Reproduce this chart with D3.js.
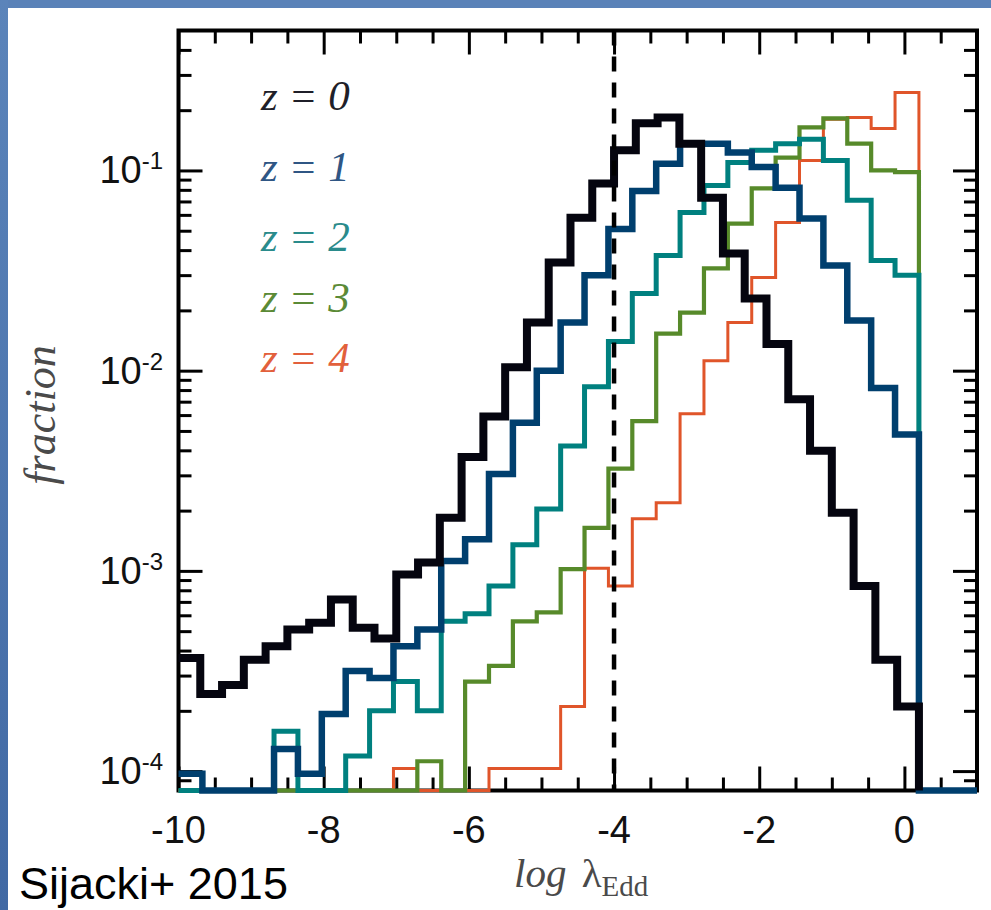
<!DOCTYPE html>
<html><head><meta charset="utf-8">
<script src="https://cdn.jsdelivr.net/npm/d3@7"></script>
<style>html,body{margin:0;padding:0;background:#fff;}svg{display:block;}</style>
</head><body>
<svg id="chart" width="991" height="910"></svg>
<script>
// ---------------- data ----------------
const seriesLabels = ["z = 0", "z = 1", "z = 2", "z = 3", "z = 4"];
// histogram bin ranges in log lambda_Edd
const z0BinRange = [-10, 0.2];      // 34 bins
const highZBinRange = [-10, 0.2];   // 31 bins (z = 1..4)
// fraction per bin (0 = empty bin)
const z0Values = [3.67e-4, 2.43e-4, 2.69e-4, 3.6e-4, 4.2e-4, 5.1e-4, 5.5e-4, 7.2e-4, 5.2e-4, 4.6e-4,
  9.6e-4, 1.1e-3, 1.84e-3, 3.7e-3, 5.9e-3, 1.04e-2, 1.74e-2, 3.47e-2, 5.8e-2, 8.6e-2,
  0.126, 0.172, 0.184, 0.136, 0.073, 0.0385, 0.0229, 0.0136, 7.2e-3, 3.98e-3,
  1.95e-3, 8.4e-4, 3.6e-4, 2.1e-4];
const z1Values = [9.7e-5, 0, 0, 0, 1.29e-4, 9.7e-5, 1.93e-4, 3.16e-4, 2.92e-4, 4.2e-4,
  5.1e-4, 1.12e-3, 1.44e-3, 3.05e-3, 5.5e-3, 0.010, 0.0174, 0.030, 0.051, 0.079,
  0.108, 0.136, 0.136, 0.123, 0.104, 0.082, 0.0575, 0.0335, 0.0178, 0.0082, 0.0048];
const z2Values = [0, 0, 0, 0, 1.58e-4, 0, 0, 1.19e-4, 2.0e-4, 2.8e-4,
  2.0e-4, 5.6e-4, 6.1e-4, 8.4e-4, 1.35e-3, 2.04e-3, 4.2e-3, 8.3e-3, 0.014, 0.0243,
  0.0376, 0.0617, 0.084, 0.1096, 0.126, 0.136, 0.143, 0.112, 0.071, 0.0355, 0.030];
const z3Values = [0, 0, 0, 0, 0, 0, 0, 0, 0, 0,
  1.12e-4, 0, 2.8e-4, 3.35e-4, 5.6e-4, 6.2e-4, 1.02e-3, 1.64e-3, 3.24e-3, 5.6e-3,
  0.0153, 0.0195, 0.0324, 0.0543, 0.0813, 0.116, 0.164, 0.182, 0.136, 0.1, 0.098];
const z4Values = [0, 0, 0, 0, 0, 0, 0, 0, 0, 1.03e-4,
  0, 0, 0, 1.03e-4, 1.03e-4, 1.03e-4, 2.1e-4, 1.03e-3, 8.4e-4, 1.82e-3,
  2.19e-3, 6.1e-3, 0.0112, 0.0174, 0.0292, 0.055, 0.112, 0.18, 0.184, 0.162, 0.245];
const xTickLabels = [-10, -8, -6, -4, -2, 0];
const yTickExponents = [-4, -3, -2, -1];
const eddingtonCut = -4;
const xDomain = [-10, 1];
const yDomain = [8e-5, 0.5];

// ---------------- layout / style ----------------
const L = 178.5, R = 977, T = 30.5, B = 790.5;
const styles = [
  {values: z0Values, range: z0BinRange, color: "#05050f", width: 8,   text: "#1f1f29", tail: false},
  {values: z1Values, range: highZBinRange, color: "#003f6e", width: 6.5, text: "#2f5684", tail: true},
  {values: z2Values, range: highZBinRange, color: "#00807f", width: 5,   text: "#2a8b8b", tail: false},
  {values: z3Values, range: highZBinRange, color: "#578a2a", width: 4.2, text: "#5b8a36", tail: false},
  {values: z4Values, range: highZBinRange, color: "#e0552a", width: 3,   text: "#e2603c", tail: false}
];
const legendBaselines = [110, 181, 251, 312, 372];

const svg = d3.select("#chart");
svg.append("rect").attr("width", 991).attr("height", 910).attr("fill", "#fff");

const defs = svg.append("defs");
const g1 = defs.append("linearGradient").attr("id", "lg").attr("x1", 0).attr("y1", 0).attr("x2", 0).attr("y2", 1);
g1.append("stop").attr("offset", "0%").attr("stop-color", "#5b84ba");
g1.append("stop").attr("offset", "100%").attr("stop-color", "#4169a4");
svg.append("rect").attr("x", 0).attr("y", 0).attr("width", 991).attr("height", 8).attr("fill", "#5a82b8");
svg.append("rect").attr("x", 0).attr("y", 0).attr("width", 8).attr("height", 910).attr("fill", "url(#lg)");

const x = d3.scaleLinear().domain(xDomain).range([L, R]);
const y = d3.scaleLog().domain(yDomain).range([B, T]);
const yPos = v => v > 0 ? y(v) : y(yDomain[0]);

// ---------------- axes (ticks inward) ----------------
const xMajor = d3.range(xDomain[0], xDomain[1] + 1e-9, 2);
const xMinor = d3.range(xDomain[0], xDomain[1] + 1e-9, 0.5).filter(v => Math.abs(v % 2) > 1e-9 && v > xDomain[0] && v < xDomain[1]);
const yMajor = yTickExponents.map(e => Math.pow(10, e));
const yMinor = [];
for (let e = -5; e <= -1; e++) for (let m = 2; m <= 9; m++) {
  const v = m * Math.pow(10, e);
  if (v > yDomain[0] * 1.001 && v < yDomain[1] * 0.999) yMinor.push(v);
}
function styleAxis(g) {
  g.select(".domain").remove();
  g.selectAll(".tick line").attr("stroke", "#000").attr("stroke-width", 3);
  g.selectAll(".tick text").remove();
}
const MAJ = 24, MIN = 13;
svg.append("g").attr("transform", `translate(0,${B})`).call(d3.axisBottom(x).tickValues(xMajor).tickSize(-MAJ)).call(styleAxis);
svg.append("g").attr("transform", `translate(0,${B})`).call(d3.axisBottom(x).tickValues(xMinor).tickSize(-MIN)).call(styleAxis);
svg.append("g").attr("transform", `translate(0,${T})`).call(d3.axisTop(x).tickValues(xMajor).tickSize(-MAJ)).call(styleAxis);
svg.append("g").attr("transform", `translate(0,${T})`).call(d3.axisTop(x).tickValues(xMinor).tickSize(-MIN)).call(styleAxis);
svg.append("g").attr("transform", `translate(${L},0)`).call(d3.axisLeft(y).tickValues(yMajor).tickSize(-MAJ)).call(styleAxis);
svg.append("g").attr("transform", `translate(${L},0)`).call(d3.axisLeft(y).tickValues(yMinor).tickSize(-MIN)).call(styleAxis);
svg.append("g").attr("transform", `translate(${R},0)`).call(d3.axisRight(y).tickValues(yMajor).tickSize(-MAJ)).call(styleAxis);
svg.append("g").attr("transform", `translate(${R},0)`).call(d3.axisRight(y).tickValues(yMinor).tickSize(-MIN)).call(styleAxis);

svg.append("rect").attr("x", L).attr("y", T).attr("width", R - L).attr("height", B - T)
  .attr("fill", "none").attr("stroke", "#000").attr("stroke-width", 4);

// tick labels
svg.append("g").selectAll("text").data(xTickLabels).join("text")
  .attr("x", d => x(d)).attr("y", 843).attr("text-anchor", "middle")
  .attr("font-family", "Liberation Sans, Arial, sans-serif").attr("font-size", 38).attr("fill", "#111")
  .text(d => String(d));
const yl = svg.append("g").selectAll("text").data(yTickExponents).join("text")
  .attr("x", 163).attr("y", d => y(Math.pow(10, d)) + 13).attr("text-anchor", "end")
  .attr("font-family", "Liberation Sans, Arial, sans-serif").attr("fill", "#111");
yl.append("tspan").attr("font-size", 38).text("10");
yl.append("tspan").attr("font-size", 24).attr("dy", -14).text(d => String(d));

// ---------------- histograms ----------------
const line = d3.line().x(d => x(d[0])).y(d => yPos(d[1])).curve(d3.curveStepAfter);
function histPoints(s) {
  const n = s.values.length, w = (s.range[1] - s.range[0]) / n;
  const pts = s.values.map((v, i) => [s.range[0] + i * w, v]);
  pts.push([s.range[1], s.values[n - 1]]);
  pts.push([s.range[1], 0]);
  if (s.tail) pts.push([xDomain[1], 0]);
  return pts;
}
const drawOrder = [4, 3, 2, 1, 0];
svg.append("g").selectAll("path").data(drawOrder.map(i => styles[i])).join("path")
  .attr("d", s => line(histPoints(s)))
  .attr("fill", "none").attr("stroke", s => s.color).attr("stroke-width", s => s.width)
  .attr("stroke-linejoin", "miter").attr("stroke-linecap", "butt");

// Eddington cut
svg.append("line").attr("x1", x(eddingtonCut)).attr("x2", x(eddingtonCut)).attr("y1", T).attr("y2", B)
  .attr("stroke", "#000").attr("stroke-width", 4.5).attr("stroke-dasharray", "15,11");

// ---------------- legend ----------------
svg.append("g").selectAll("text").data(seriesLabels).join("text")
  .attr("x", 261).attr("y", (d, i) => legendBaselines[i])
  .attr("font-family", "Liberation Serif, Times New Roman, serif").attr("font-style", "italic")
  .attr("font-size", 43).attr("fill", (d, i) => styles[i].text)
  .attr("xml:space", "preserve").text(d => d.replace(/ /g, "\u00a0"));

// ---------------- titles ----------------
const xt = svg.append("text").attr("x", 514).attr("y", 887)
  .attr("font-family", "Liberation Serif, Times New Roman, serif").attr("fill", "#4a4a4a");
xt.append("tspan").attr("font-style", "italic").attr("font-size", 41).text("log ");
xt.append("tspan").attr("font-size", 41).attr("dx", 5).text("λ");
xt.append("tspan").attr("font-size", 29).attr("dy", 9).text("Edd");

svg.append("text").attr("transform", "translate(55,415) rotate(-90)").attr("text-anchor", "middle")
  .attr("font-family", "Liberation Serif, Times New Roman, serif").attr("font-style", "italic")
  .attr("font-size", 44).attr("fill", "#4a4a4a").text("fraction");

svg.append("text").attr("x", 19).attr("y", 899)
  .attr("font-family", "Liberation Sans, Arial, sans-serif").attr("font-size", 45).attr("fill", "#000")
  .text("Sijacki+ 2015");
</script>
</body></html>
